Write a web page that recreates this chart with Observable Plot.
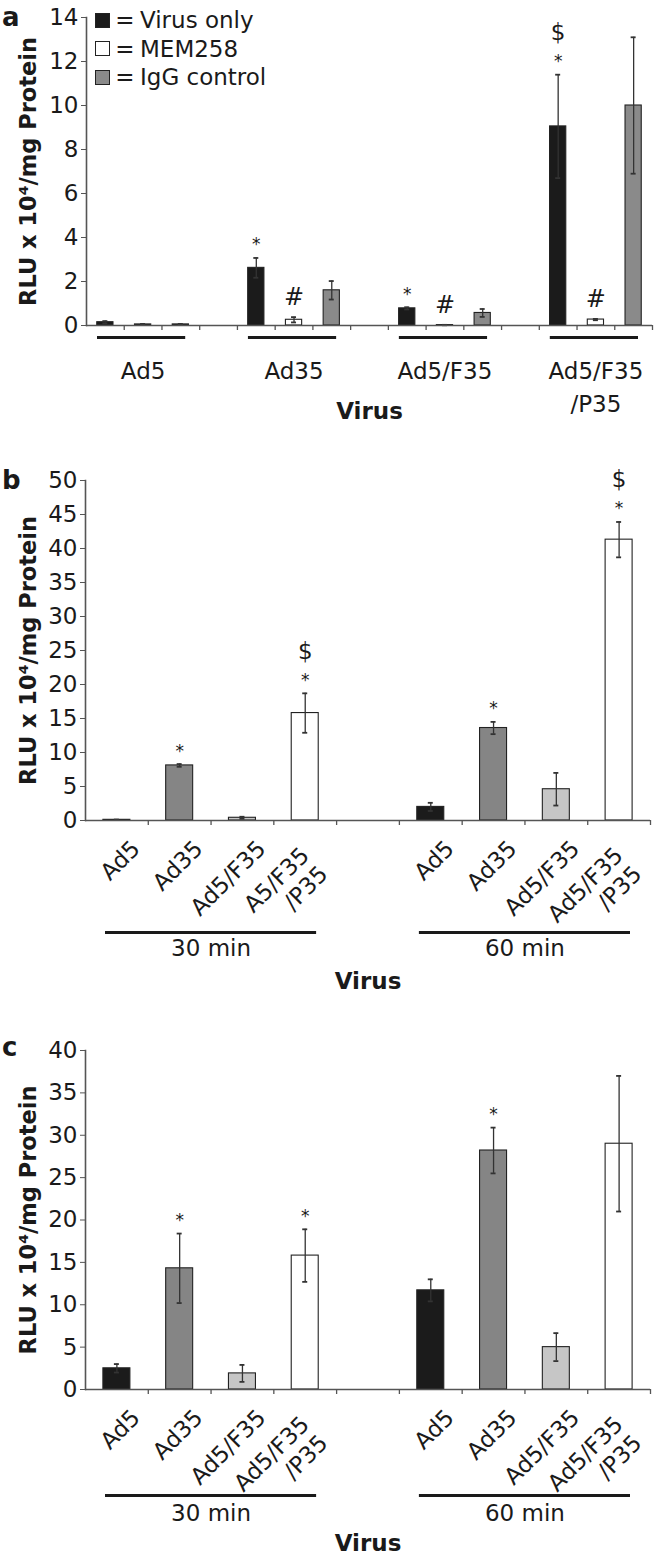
<!DOCTYPE html>
<html><head><meta charset="utf-8">
<script src="https://cdn.jsdelivr.net/npm/d3@7"></script>
<script src="https://cdn.jsdelivr.net/npm/@observablehq/plot@0.6"></script>
<style>
body{margin:0;background:#fff;}
#fig{position:relative;width:654px;height:1565px;overflow:hidden;font-family:"DejaVu Sans","Liberation Sans",Arial,sans-serif;color:#1a1a1a;}
.panel{position:absolute;left:0;}
.letter{position:absolute;font-weight:bold;font-size:26px;line-height:30px;}
.legend{position:absolute;left:95px;top:6px;font-size:23px;}
.legend .row{display:flex;align-items:center;height:28.5px;white-space:nowrap;}
.legend .sw{width:13px;height:13px;border:1.5px solid #222;display:inline-block;}
.legend .eq{display:inline-block;width:30px;text-align:center;}
</style></head><body><div id="fig"></div>
<script>
// ---------------- DATA ----------------
// Panel a
const aGroups = ["Ad5", "Ad35", "Ad5/F35", "Ad5/F35\n/P35"];
const aSeries = ["Virus only", "MEM258", "IgG control"];
const aSeriesFill = ["#1b1b1b", "#ffffff", "#8a8a8a"];
const aVirusOnly = [0.15, 2.62, 0.78, 9.05];
const aVirusOnlyErr = [0.05, 0.45, 0.05, 2.35];
const aMEM258 = [0.05, 0.26, 0.02, 0.27];
const aMEM258Err = [0.02, 0.12, 0.01, 0.03];
const aIgG = [0.05, 1.6, 0.57, 10.0];
const aIgGErr = [0.02, 0.42, 0.18, 3.1];
const aVirusOnlyMarks = ["", "*", "*", "*$"];
const aMEM258Marks = ["", "#", "#", "#"];
const aIgGMarks = ["", "", "", ""];
const aYTicks = [0, 2, 4, 6, 8, 10, 12, 14];

// Panels b and c
const timeGroups = ["30 min", "60 min"];
const virusFill = ["#1b1b1b", "#858585", "#c6c6c6", "#ffffff"];
const b30Labels = ["Ad5", "Ad35", "Ad5/F35", "A5/F35\n/P35"];
const b60Labels = ["Ad5", "Ad35", "Ad5/F35", "Ad5/F35\n/P35"];
const b30 = [0.1, 8.1, 0.4, 15.8];
const b30Err = [0.04, 0.2, 0.15, 2.9];
const b60 = [2.0, 13.6, 4.6, 41.3];
const b60Err = [0.6, 0.9, 2.4, 2.6];
const b30Marks = ["", "*", "", "*$"];
const b60Marks = ["", "*", "", "*$"];
const bYTicks = [0, 5, 10, 15, 20, 25, 30, 35, 40, 45, 50];

const c30Labels = ["Ad5", "Ad35", "Ad5/F35", "Ad5/F35\n/P35"];
const c60Labels = ["Ad5", "Ad35", "Ad5/F35", "Ad5/F35\n/P35"];
const c30 = [2.5, 14.3, 1.9, 15.8];
const c30Err = [0.5, 4.1, 1.0, 3.1];
const c60 = [11.7, 28.2, 5.0, 29.0];
const c60Err = [1.3, 2.7, 1.65, 8.0];
const c30Marks = ["", "*", "", "*"];
const c60Marks = ["", "*", "", ""];
const cYTicks = [0, 5, 10, 15, 20, 25, 30, 35, 40];

const yTitle = "RLU x 10\u2074/mg Protein";

// ---------------- HELPERS ----------------
const PW = 654;
const FONT = '"DejaVu Sans","Liberation Sans",Arial,sans-serif';
const AX = "#555";
const INK = "#1a1a1a";

function panel(cfg) {
  const {slots, rows, yMax, yTicks, ml, mr, mt, mb, height, barFrac, extra} = cfg;
  const bw = (PW - ml - mr) / slots.length;
  const inset = bw * (1 - barFrac) / 2;
  const capInset = (bw - 5) / 2;
  const errRows = rows.filter(d => d.err > 0);
  const hi = d => d.value + d.err;
  const lo = d => Math.max(0, d.value - d.err);
  const stars = rows.filter(d => d.marks.includes("*"));
  const dollars = rows.filter(d => d.marks.includes("$"));
  const hashes = rows.filter(d => d.marks.includes("#"));
  return Plot.plot({
    width: PW, height, marginLeft: ml, marginRight: mr, marginTop: mt, marginBottom: mb,
    style: {fontFamily: FONT, fontSize: "23px", color: INK, background: "white", overflow: "visible"},
    x: {type: "band", domain: slots, padding: 0, round: false, axis: null},
    y: {domain: [0, yMax], axis: null},
    color: {type: "identity"},
    marks: [
      Plot.barY(rows, {x: "slot", y: "value", fill: "col", stroke: "#222", strokeWidth: 1.1, insetLeft: inset, insetRight: inset}),
      Plot.ruleX(errRows, {x: "slot", y1: lo, y2: hi, stroke: "#333", strokeWidth: 1.3}),
      Plot.tickY(errRows, {x: "slot", y: hi, stroke: "#333", strokeWidth: 1.8, insetLeft: capInset, insetRight: capInset}),
      Plot.tickY(errRows, {x: "slot", y: lo, stroke: "#333", strokeWidth: 1.8, insetLeft: capInset, insetRight: capInset}),
      Plot.frame({anchor: "left", stroke: AX, strokeWidth: 1.6}),
      Plot.ruleY([0], {stroke: AX, strokeWidth: 1.6}),
      Plot.ruleX(slots.slice(1), {x: d => d, y1: 0, y2: 0, insetTop: 5, dx: -bw / 2, stroke: AX, strokeWidth: 1.3}),
      Plot.ruleX(slots.slice(-1), {x: d => d, y1: 0, y2: 0, insetTop: 5, dx: bw / 2, stroke: AX, strokeWidth: 1.3}),
      Plot.axisY({ticks: yTicks, tickSize: 5, tickPadding: 3, stroke: AX, fontSize: 23, label: null}),
      Plot.text([yTitle], {frameAnchor: "left", textAnchor: "middle", rotate: -90, dx: cfg.titleDx, fontWeight: "bold", fontSize: 22.5}),
      Plot.text(["Virus"], {frameAnchor: "bottom", dy: cfg.virusDy, fontWeight: "bold", fontSize: 23}),
      Plot.text(stars, {x: "slot", y: hi, text: () => "*", dy: -13, fontSize: 17}),
      Plot.text(dollars, {x: "slot", y: hi, text: () => "$", dy: -42, fontSize: 23}),
      Plot.text(hashes, {x: "slot", y: hi, text: () => "#", dy: -20, fontSize: 24}),
      ...extra(bw, inset)
    ]
  });
}

function place(node, top) {
  const d = document.createElement("div");
  d.className = "panel";
  d.style.top = top + "px";
  d.appendChild(node);
  document.getElementById("fig").appendChild(d);
}

// ---------------- PANEL A ----------------
const aSlots = [];
const aRows = [];
const aVals = [aVirusOnly, aMEM258, aIgG];
const aErrs = [aVirusOnlyErr, aMEM258Err, aIgGErr];
const aMarks = [aVirusOnlyMarks, aMEM258Marks, aIgGMarks];
aGroups.forEach((g, gi) => {
  if (gi > 0) aSlots.push("gap" + gi);
  aSeries.forEach((s, si) => {
    const slot = gi + "-" + si;
    aSlots.push(slot);
    aRows.push({slot, group: g, series: s, value: aVals[si][gi], err: aErrs[si][gi], marks: aMarks[si][gi], col: aSeriesFill[si]});
  });
});
const aGroupRows = aGroups.map((g, gi) => ({label: g, first: gi + "-0", mid: gi + "-1", last: gi + "-2"}));

place(panel({
  slots: aSlots, rows: aRows, yMax: 14, yTicks: aYTicks,
  ml: 86, mr: 2, mt: 17, mb: 115, height: 440, barFrac: 0.43,
  titleDx: -58, virusDy: 93,
  extra: (bw, inset) => [
    Plot.ruleY(aGroupRows, {x1: "first", x2: "last", y: 0, dy: 12, insetLeft: 11, insetRight: 14, stroke: INK, strokeWidth: 3}),
    Plot.text(aGroupRows, {x: "mid", text: "label", frameAnchor: "bottom", dy: 31, lineAnchor: "top", lineHeight: 1.4, fontSize: 23})
  ]
}), 0);

// ---------------- PANELS B, C ----------------
function timeRows(v30, e30, m30, l30, v60, e60, m60, l60) {
  const slots = [], rows = [];
  const vals = [v30, v60], errs = [e30, e60], mks = [m30, m60], labs = [l30, l60];
  timeGroups.forEach((t, ti) => {
    if (ti > 0) slots.push("gap");
    vals[ti].forEach((v, vi) => {
      const slot = ti + "-" + vi;
      slots.push(slot);
      rows.push({slot, time: t, label: labs[ti][vi], value: v, err: errs[ti][vi], marks: mks[ti][vi], col: virusFill[vi]});
    });
  });
  const groups = timeGroups.map((t, ti) => ({label: t, first: ti + "-0", mid: ti + "-2", last: ti + "-3"}));
  return {slots, rows, groups};
}

function timeExtra(rows, groups, ulDy, gDy) {
  return (bw, inset) => [
    Plot.text(rows.filter(d => !d.label.includes("\n")), {x: "slot", text: "label", frameAnchor: "bottom", rotate: -45, textAnchor: "end", lineAnchor: "top", dx: 13, dy: 18, fontSize: 23}),
    Plot.text(rows.filter(d => d.label.includes("\n")), {x: "slot", text: "label", frameAnchor: "bottom", rotate: -45, textAnchor: "end", lineAnchor: "top", lineHeight: 1.15, dx: -8, dy: 23, fontSize: 23}),
    Plot.ruleY(groups, {x1: "first", x2: "last", y: 0, dy: ulDy, insetLeft: 20, insetRight: 20, stroke: INK, strokeWidth: 3}),
    Plot.text(groups, {x: "mid", text: "label", frameAnchor: "bottom", dx: -bw / 2, dy: gDy, fontSize: 23})
  ];
}

const B = timeRows(b30, b30Err, b30Marks, b30Labels, b60, b60Err, b60Marks, b60Labels);
place(panel({
  slots: B.slots, rows: B.rows, yMax: 50, yTicks: bYTicks,
  ml: 85, mr: 4, mt: 40, mb: 180, height: 560, barFrac: 0.43,
  titleDx: -57, virusDy: 168,
  extra: timeExtra(B.rows, B.groups, 112, 135)
}), 440);

const C = timeRows(c30, c30Err, c30Marks, c30Labels, c60, c60Err, c60Marks, c60Labels);
place(panel({
  slots: C.slots, rows: C.rows, yMax: 40, yTicks: cYTicks,
  ml: 85, mr: 4, mt: 50, mb: 176, height: 565, barFrac: 0.43,
  titleDx: -57, virusDy: 161,
  extra: timeExtra(C.rows, C.groups, 106, 131)
}), 1000);

// ---------------- LETTERS & LEGEND ----------------
const fig = document.getElementById("fig");
[["a", 2, 2], ["b", 465, 2], ["c", 1032, 2]].forEach(([t, top, left]) => {
  const d = document.createElement("div");
  d.className = "letter"; d.textContent = t;
  d.style.top = top + "px"; d.style.left = left + "px";
  fig.appendChild(d);
});
const leg = document.createElement("div");
leg.className = "legend";
aSeries.forEach((s, i) => {
  const r = document.createElement("div"); r.className = "row";
  const sw = document.createElement("span"); sw.className = "sw"; sw.style.background = aSeriesFill[i];
  const eq = document.createElement("span"); eq.className = "eq"; eq.textContent = "=";
  const tx = document.createElement("span"); tx.textContent = s;
  r.append(sw, eq, tx); leg.appendChild(r);
});
fig.appendChild(leg);
</script></body></html>
